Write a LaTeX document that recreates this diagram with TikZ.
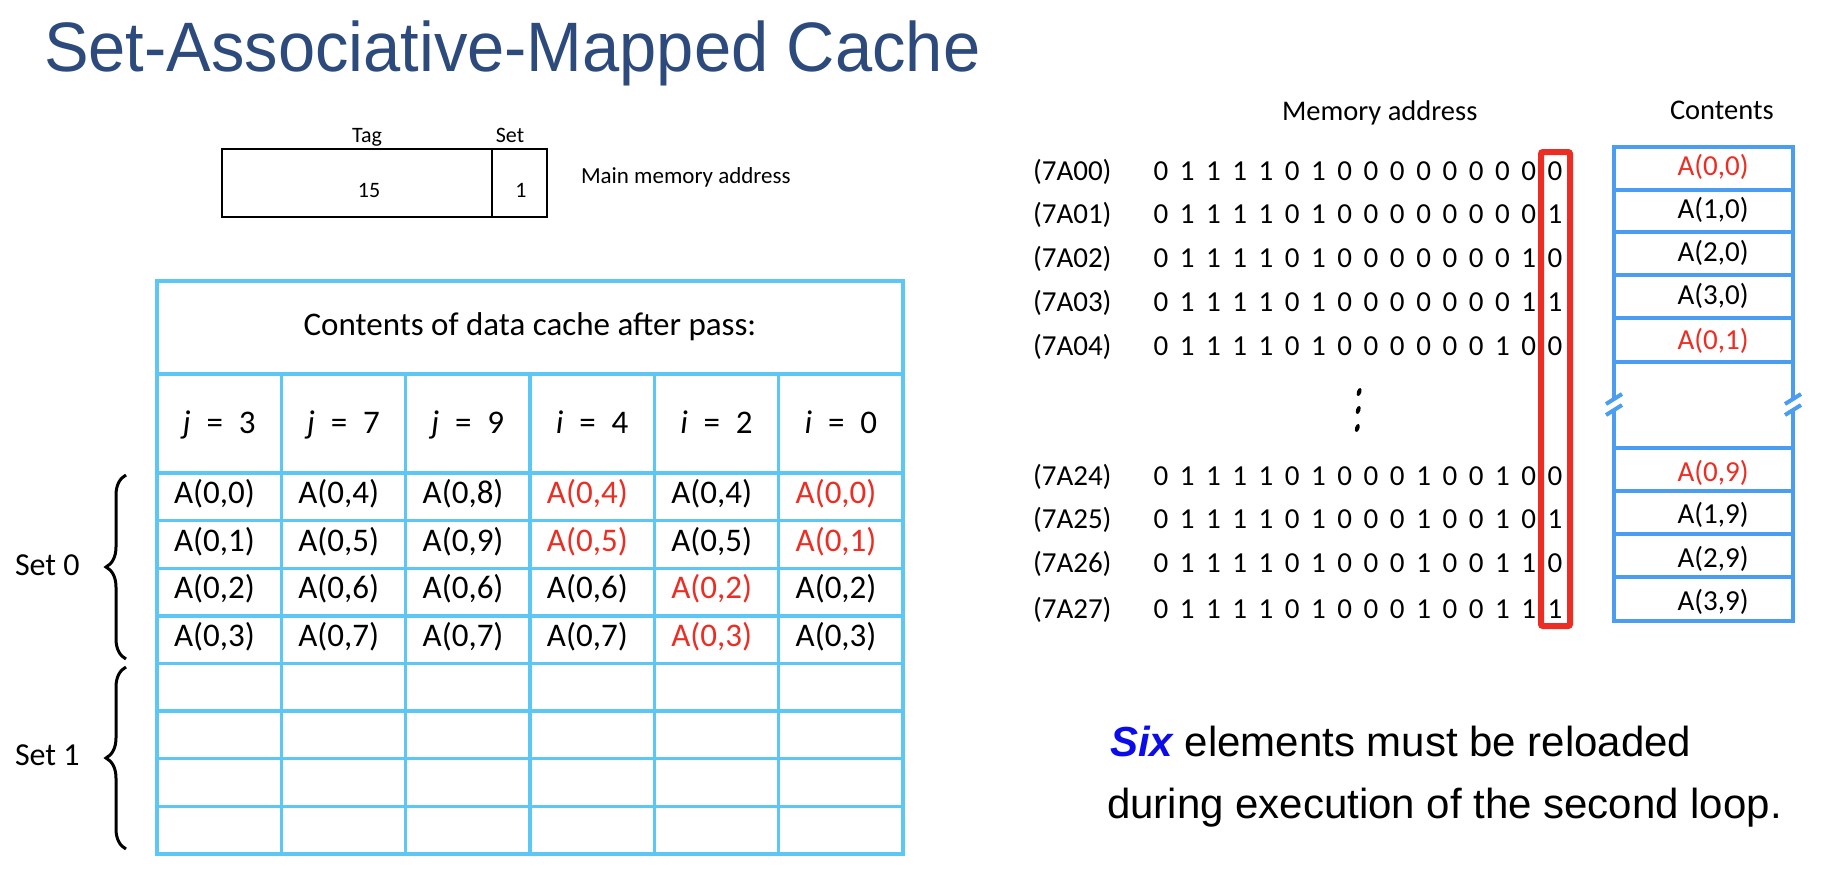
\documentclass[tikz,border=0pt]{standalone}
\usepackage{fontspec}
\setmainfont{Carlito}
\newfontfamily\arialfont{Liberation Sans}
\newfontfamily\titlefont[FakeStretch=0.955]{Liberation Sans}
\usetikzlibrary{decorations.pathreplacing}
\definecolor{titleblue}{RGB}{45,74,125}
\definecolor{gridblue}{RGB}{92,198,245}
\definecolor{contblue}{RGB}{74,157,240}
\definecolor{hired}{RGB}{236,45,35}
\definecolor{sixblue}{RGB}{12,12,235}
\def\bitrow#1{\bitloop#1\relax}
\def\bitloop#1{\ifx#1\relax\else\makebox[26.27pt][l]{#1}\expandafter\bitloop\fi}
\begin{document}
\begin{tikzpicture}[x=1pt,y=-1pt,
  txt/.style={inner sep=0pt,outer sep=0pt},
  small/.style={txt,font=\fontsize{22}{26}\selectfont},
  tabtxt/.style={txt,font=\fontsize{33}{40}\selectfont},
  addr/.style={txt,font=\fontsize{29}{34}\selectfont},
  bigtxt/.style={txt,font=\arialfont\fontsize{42}{50}\selectfont},
  grid/.style={draw=gridblue,line width=3.3pt},
  cgrid/.style={draw=contblue,line width=4pt},
  bracestyle/.style={draw=black,line width=3pt,decorate,decoration={brace,amplitude=20pt}},
  redbox/.style={draw=hired,line width=6pt,rounded corners=2pt}
]
\useasboundingbox (0,0) rectangle (1827,892);

% Title
\node[txt,anchor=base west,text=titleblue,font=\titlefont\fontsize{70}{84}\selectfont] (title) at (44,71.7) {Set-Associative-Mapped Cache};

% Address format box
\node[draw,line width=2pt,txt,anchor=north west,minimum width=270.5pt,minimum height=68pt] (tagf) at (221.5,149) {};
\node[draw,line width=2pt,txt,anchor=north west,minimum width=55pt,minimum height=68pt] (setf) at (492,149) {};
\node[small,anchor=base] (taglbl) at (367,142) {Tag};
\node[small,anchor=base] (setlbl) at (510,142) {Set};
\node[small,anchor=base] (tagval) at (369,197) {15};
\node[small,anchor=base] (setval) at (521,197) {1};
\node[small,anchor=base west,font=\fontsize{23}{27}\selectfont] (mma) at (581,183) {Main memory address};

% Cache table grid
\draw[grid] (157,281) rectangle (903,854);
\draw[grid] (157,374) -- (903,374);
\foreach \k in {0,...,7} \draw[grid] (157,473+47.625*\k) -- (903,473+47.625*\k);
\foreach \k in {1,...,5} \draw[grid] (157+124.33*\k,374) -- (157+124.33*\k,854);

\node[tabtxt,anchor=base] (ctitle) at (530,335) {Contents of data cache after pass:};
\foreach \v/\n [count=\k] in {j/3,j/7,j/9,i/4,i/2,i/0}
  \node[tabtxt,anchor=base] (h-\k) at (157+124.33*\k-62.17,433) {\textit{\v}\hspace{0.48em}=\hspace{0.48em}\n};

\def\rowA{0/0/black,0/4/black,0/8/black,0/4/hired,0/4/black,0/0/hired}
\def\rowB{0/1/black,0/5/black,0/9/black,0/5/hired,0/5/black,0/1/hired}
\def\rowC{0/2/black,0/6/black,0/6/black,0/6/black,0/2/hired,0/2/black}
\def\rowD{0/3/black,0/7/black,0/7/black,0/7/black,0/3/hired,0/3/black}
\foreach \rw [count=\r] in {\rowA,\rowB,\rowC,\rowD}{
  \edef\rowlist{\rw}
  \foreach \a/\b/\c [count=\k] in \rowlist
    \node[tabtxt,anchor=base west,text=\c] (d-\r-\k) at (157+124.33*\k-124.33+17,473+47.625*\r-47.625+30.5) {A(\a,\b)};
}

% Braces and set labels
\draw[bracestyle] (126,659) -- (126,475);
\draw[bracestyle] (126,849) -- (126,667);
\node[txt,anchor=base west,font=\fontsize{32}{38}\selectfont] (set0) at (15,575) {Set 0};
\node[txt,anchor=base west,font=\fontsize{32}{38}\selectfont] (set1) at (15,765) {Set 1};

% Memory address panel
\node[addr,anchor=base west,font=\fontsize{28.5}{34}\selectfont] (mahead) at (1282,120) {Memory address};
\node[addr,anchor=base west,font=\fontsize{28.5}{34}\selectfont] (cohead) at (1670,119) {Contents};

\foreach \h/\bits/\y in {7A00/0111101000000000/180,7A01/0111101000000001/223.5,7A02/0111101000000010/267,7A03/0111101000000011/311,7A04/0111101000000100/355,7A24/0111101000100100/485,7A25/0111101000100101/528.5,7A26/0111101000100110/572,7A27/0111101000100111/618}{
  \node[addr,anchor=base west] (a-\h) at (1033,\y) {(\h)};
  \node[addr,anchor=base west] (b-\h) at (1153.5,\y) {\expandafter\bitrow\expandafter{\bits}};
}

% vertical dots
\foreach \yy [count=\k] in {392,410,428}
  \fill[rotate around={-18:(1360-\k*0.9,\yy)}] (1360-\k*0.9,\yy) ellipse (2.2pt and 4.2pt);

% red box around last bit
\draw[redbox] (1541,152) rectangle (1570,626);

% Contents column
\draw[cgrid] (1614,399) -- (1614,147) -- (1793,147) -- (1793,399);
\draw[cgrid] (1614,410) -- (1614,621) -- (1793,621) -- (1793,410);
\foreach \yy in {189.5,232,275,318,362,448,491,534,577}
  \draw[cgrid] (1614,\yy) -- (1793,\yy);
\foreach \xx in {1614,1793}{
  \draw[cgrid] (\xx-8,404) -- (\xx+8,394);
  \draw[cgrid] (\xx-8,415) -- (\xx+8,405);
}
\foreach \a/\b/\y/\c [count=\k] in {0/0/175/hired,1/0/218/black,2/0/261/black,3/0/304/black,0/1/349/hired,0/9/481/hired,1/9/523/black,2/9/567/black,3/9/610/black}
  \node[addr,anchor=base,text=\c] (m-\k) at (1713,\y) {A(\a,\b)};

% Bottom statement
\node[bigtxt,anchor=base west] (line1) at (1110,756) {{\bfseries\itshape\color{sixblue}Six} elements must be reloaded};
\node[bigtxt,anchor=base west] (line2) at (1107,818) {during execution of the second loop.};
\end{tikzpicture}
\end{document}
